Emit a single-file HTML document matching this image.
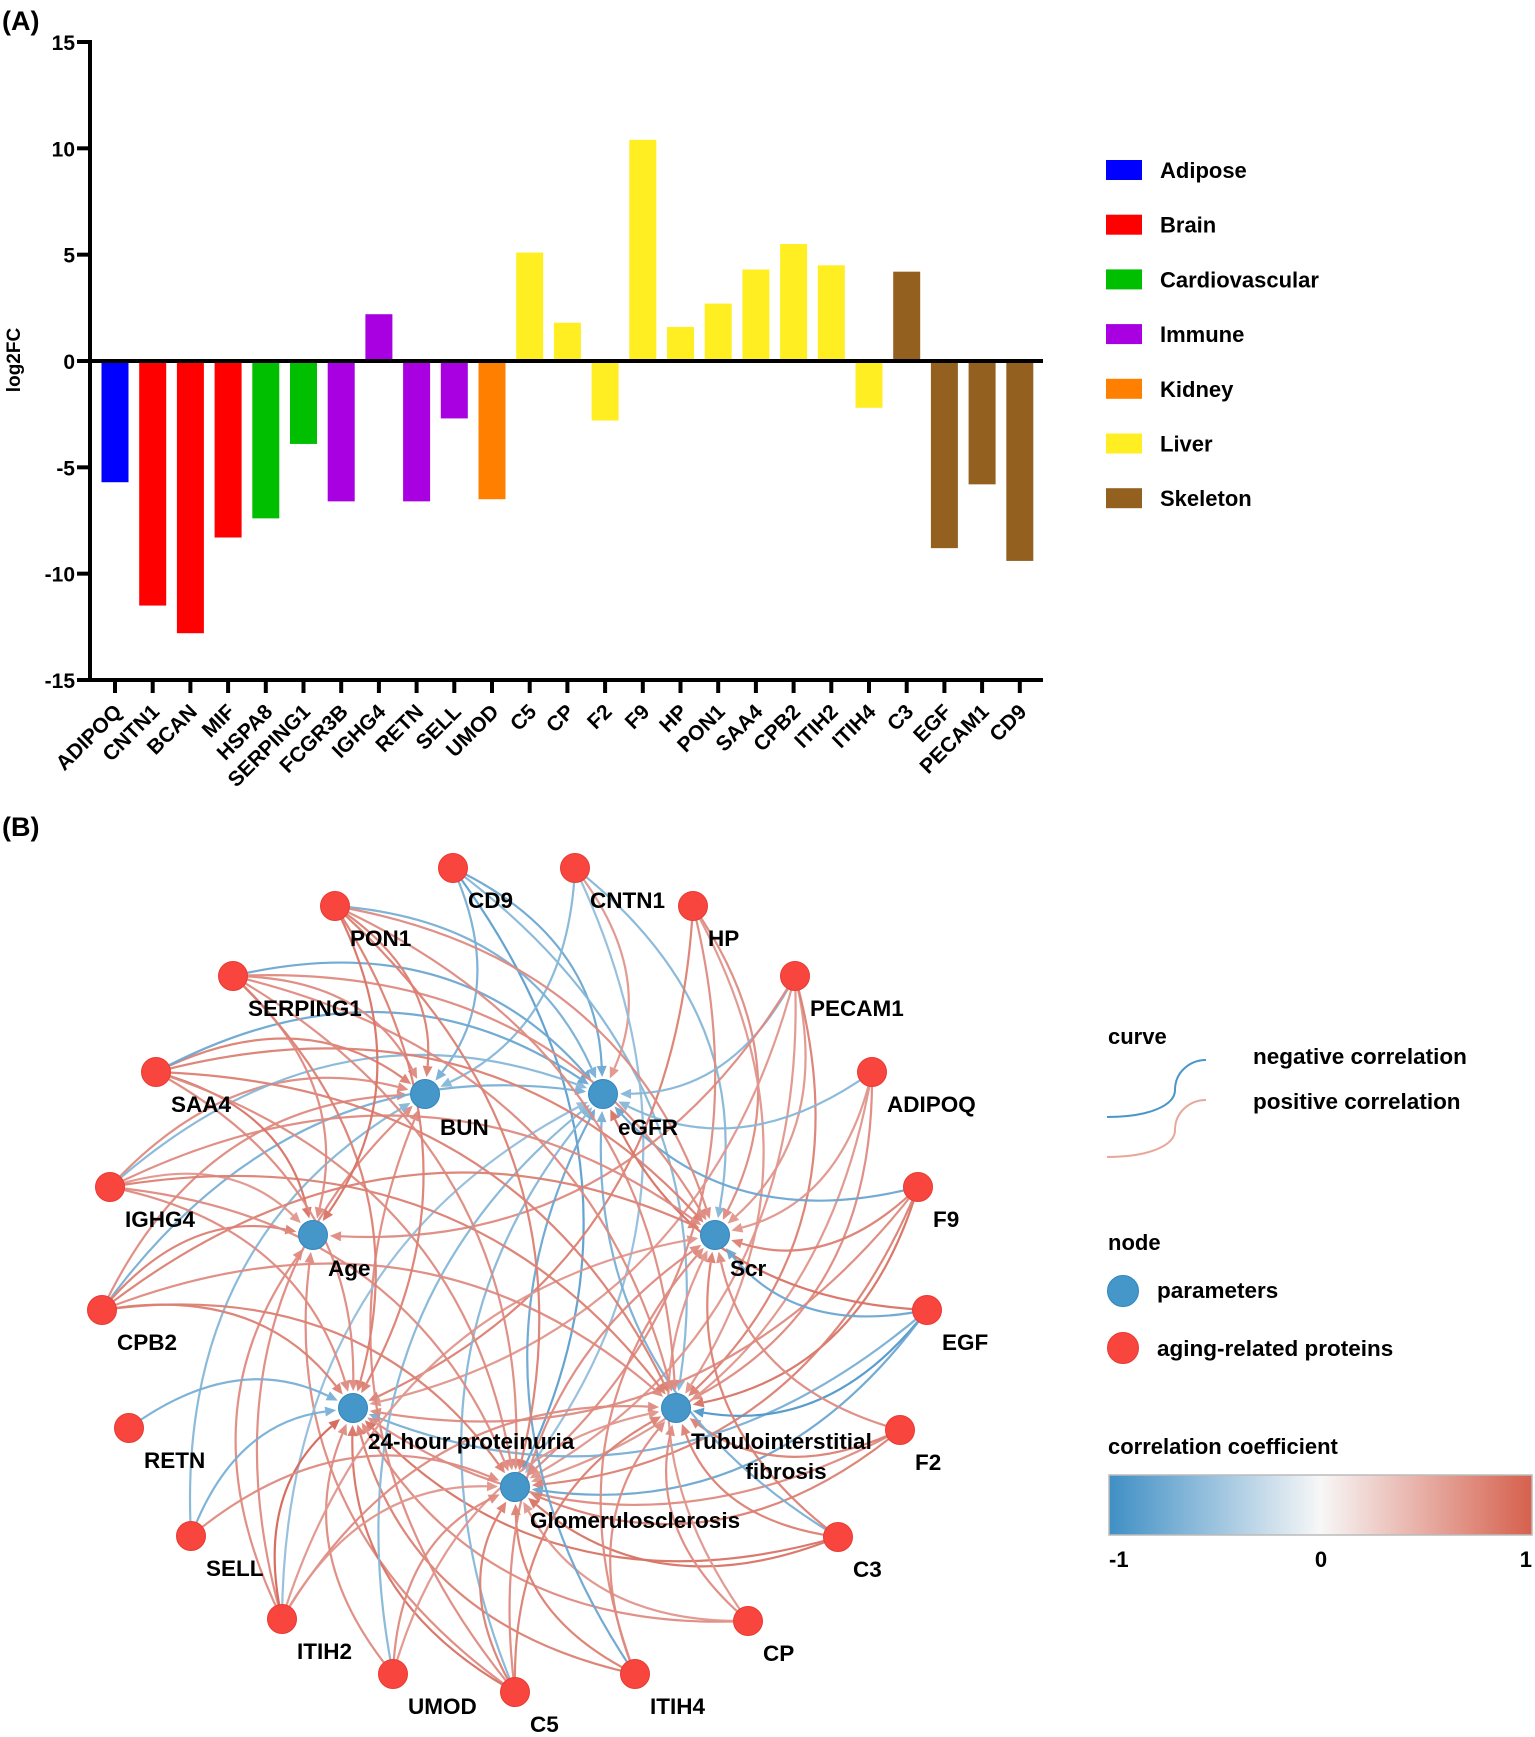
<!DOCTYPE html>
<html><head><meta charset="utf-8"><style>
html,body{margin:0;padding:0;background:#fff;}
svg{display:block;font-family:"Liberation Sans",Arial,sans-serif;font-weight:bold;}
</style></head><body>
<svg id="fig" width="1535" height="1737" viewBox="0 0 1535 1737" xmlns="http://www.w3.org/2000/svg">
<text x="2" y="30" font-size="27">(A)</text>
<g id="barChart"></g>
<g id="barLegend"></g>
<text x="2" y="836" font-size="27">(B)</text>
<g id="net"></g>
<g id="netLegend">
<text x="1108" y="1044" font-size="22">curve</text>
<path d="M1107,1117 C1150,1117 1175,1105 1175,1090 C1175,1072 1190,1060 1206,1060" fill="none" stroke="#4a96c8" stroke-width="2"/>
<path d="M1107,1157 C1150,1157 1175,1145 1175,1130 C1175,1112 1190,1100 1206,1100" fill="none" stroke="#e9a79b" stroke-width="2"/>
<text x="1253" y="1064" font-size="22.5">negative correlation</text>
<text x="1253" y="1109" font-size="22.5">positive correlation</text>
<text x="1108" y="1250" font-size="22">node</text>
<circle cx="1123" cy="1291" r="15.5" fill="#4596c9" stroke="#2f86c0"/>
<text x="1157" y="1298" font-size="22.5">parameters</text>
<circle cx="1123" cy="1348" r="15.5" fill="#f8463f" stroke="#e83a33"/>
<text x="1157" y="1356" font-size="22.5">aging-related proteins</text>
<text x="1108" y="1454" font-size="22">correlation coefficient</text>
<defs><linearGradient id="cg" x1="0" x2="1" y1="0" y2="0">
<stop offset="0" stop-color="#3f8fc5"/><stop offset="0.5" stop-color="#f7f7f7"/><stop offset="1" stop-color="#d6604d"/></linearGradient></defs>
<rect x="1109" y="1475" width="423" height="60" fill="url(#cg)" stroke="#bbb" stroke-width="1.5"/>
<text x="1109" y="1567" font-size="22">-1</text>
<text x="1321" y="1567" font-size="22" text-anchor="middle">0</text>
<text x="1532" y="1567" font-size="22" text-anchor="end">1</text>
</g>
</svg>
<script>
var NS="http://www.w3.org/2000/svg";
// ---------- Panel A data ----------
var genes=["ADIPOQ","CNTN1","BCAN","MIF","HSPA8","SERPING1","FCGR3B","IGHG4","RETN","SELL","UMOD","C5","CP","F2","F9","HP","PON1","SAA4","CPB2","ITIH2","ITIH4","C3","EGF","PECAM1","CD9"];
var log2fc=[-5.7,-11.5,-12.8,-8.3,-7.4,-3.9,-6.6,2.2,-6.6,-2.7,-6.5,5.1,1.8,-2.8,10.4,1.6,2.7,4.3,5.5,4.5,-2.2,4.2,-8.8,-5.8,-9.4];
var tissueOf=["Adipose","Brain","Brain","Brain","Cardiovascular","Cardiovascular","Immune","Immune","Immune","Immune","Kidney","Liver","Liver","Liver","Liver","Liver","Liver","Liver","Liver","Liver","Liver","Skeleton","Skeleton","Skeleton","Skeleton"];
var tissues=["Adipose","Brain","Cardiovascular","Immune","Kidney","Liver","Skeleton"];
var tissueColors=["#0000ff","#ff0000","#00bf00","#a800e0","#ff7f00","#ffee22","#936020"];
var yTicks=[15,10,5,0,-5,-10,-15];

function el(tag,attrs,parent){var e=document.createElementNS(NS,tag);for(var k in attrs)e.setAttribute(k,attrs[k]);parent.appendChild(e);return e;}
var AX={x0:90,x1:1043,yTop:42,yBot:680,vmin:-15,vmax:15,first:115,step:37.7,bw:27};
function yA(v){return AX.yBot-(v-AX.vmin)/(AX.vmax-AX.vmin)*(AX.yBot-AX.yTop);}
function xA(i){return AX.first+i*AX.step;}
var bc=document.getElementById('barChart');
genes.forEach(function(g,i){
  var v=log2fc[i],y0=yA(0),y1=yA(v);
  var r=el('rect',{x:xA(i)-AX.bw/2,y:Math.min(y0,y1),width:AX.bw,height:Math.abs(y1-y0),fill:tissueColors[tissues.indexOf(tissueOf[i])]},bc);
  
  
  var t=el('line',{x1:xA(i),x2:xA(i),y1:AX.yBot,y2:AX.yBot+13,stroke:'#000','stroke-width':4},bc);
  
  
  var lx=xA(i)+8,ly=AX.yBot+33;
  var tl=el('text',{x:lx,y:ly,'font-size':21,'text-anchor':'end',transform:'rotate(-45 '+lx+' '+ly+')'},bc);
  tl.textContent=g;
  
  
});
yTicks.forEach(function(v){
  var t=el('line',{x1:AX.x0-13,x2:AX.x0,y1:yA(v),y2:yA(v),stroke:'#000','stroke-width':4},bc);
  
  
  var tl=el('text',{x:AX.x0-15,y:yA(v)+8,'font-size':21,'text-anchor':'end'},bc);
  tl.textContent=v;
  
  
});
var ya=el('line',{x1:AX.x0,x2:AX.x0,y1:AX.yTop-2,y2:AX.yBot+2,stroke:'#000','stroke-width':4},bc);


var xa=el('line',{x1:AX.x0-2,x2:AX.x1,y1:AX.yBot,y2:AX.yBot,stroke:'#000','stroke-width':4},bc);


var zl=el('line',{x1:AX.x0,x2:AX.x1,y1:yA(0),y2:yA(0),stroke:'#000','stroke-width':4},bc);


var yt=el('text',{x:20,y:360,'font-size':19,'text-anchor':'middle',transform:'rotate(-90 20 360)'},bc);
yt.textContent='log2FC';


var bl=document.getElementById('barLegend');
tissues.forEach(function(t,i){
  var y=170+i*54.7;
  var s=el('rect',{x:1106,y:y-10,width:36,height:20,fill:tissueColors[i]},bl);
  
  
  var tx=el('text',{x:1160,y:y+8,'font-size':22},bl);
  tx.textContent=t;
  
  
});

// ---------- Panel B data ----------
var proteins=["CD9","CNTN1","HP","PECAM1","ADIPOQ","F9","EGF","F2","C3","CP","ITIH4","C5","UMOD","ITIH2","SELL","RETN","CPB2","IGHG4","SAA4","SERPING1","PON1"];
var params=["BUN","eGFR","Age","Scr","24-hour proteinuria","Tubulointerstitial fibrosis","Glomerulosclerosis"];
// correlation of each protein with [BUN,eGFR,Age,Scr,24h,TIF,GS]; 0 = no edge
var rCD9=[-0.5,-0.6,0,0,0,-0.4,-0.7];
var rCNTN1=[-0.4,0.4,0,-0.4,0,0,-0.3];
var rHP=[0,0,0,0.5,0.6,0.4,0.5];
var rPECAM1=[0,-0.4,0.5,0.4,0.4,0.6,0.4];
var rADIPOQ=[0,-0.4,0,0.4,0,0.5,0.4];
var rF9=[0,-0.6,0,0.6,0.5,0.7,0.6];
var rEGF=[0,0.7,0,-0.6,-0.5,-0.8,-0.6];
var rF2=[0,0,0,0.5,0.5,0.6,0.6];
var rC3=[0,-0.5,0,0.6,0.7,0.6,0.7];
var rCP=[0,0,0,0.4,0.5,0.5,0.4];
var rITIH4=[0,-0.6,0,0.5,0.6,0.5,0.6];
var rC5=[0.5,-0.4,0.5,0.5,0.7,0.6,0.6];
var rUMOD=[0,-0.4,0,0,0.5,0.4,0.5];
var rITIH2=[0.5,-0.3,0.5,0.4,0.8,0.5,0.4];
var rSELL=[-0.4,0,0,0,-0.5,0,0.5];
var rRETN=[0,0,0,0,-0.5,0,0];
var rCPB2=[0.5,-0.5,0.6,0.6,0.6,0.5,0.6];
var rIGHG4=[0.5,-0.4,0.4,0.5,0.5,0.6,0.5];
var rSAA4=[0.6,-0.6,0.7,0.6,0.5,0.6,0.5];
var rSERPING1=[0.5,-0.6,0.5,0.5,0.6,0.5,0.5];
var rPON1=[0.6,-0.5,0.7,0.5,0.6,0.5,0.6];
var corr=[rCD9,rCNTN1,rHP,rPECAM1,rADIPOQ,rF9,rEGF,rF2,rC3,rCP,rITIH4,rC5,rUMOD,rITIH2,rSELL,rRETN,rCPB2,rIGHG4,rSAA4,rSERPING1,rPON1];

// layout (positions)
var protPos=[[453,868],[575,868],[693,906],[795,976],[872,1072],[918,1187],[927,1310],[900,1430],[838,1537],[748,1621],[635,1674],[515,1692],[393,1674],[282,1619],[191,1536],[129,1428],[102,1310],[110,1187],[156,1072],[233,976],[335,906]];
var paramPos=[[425,1094],[603,1094],[313,1235],[715,1235],[353,1408],[676,1408],[515,1487]];

function mix(a,b,t){return 'rgb('+[0,1,2].map(function(k){return Math.round(a[k]+(b[k]-a[k])*t);}).join(',')+')';}
function colorFor(r){var t=0.3+0.7*Math.min(1,Math.abs(r));return r<0?mix([247,247,247],[52,136,194],t):mix([247,247,247],[208,80,62],t);}
var net=document.getElementById('net');
var eg=el('g',{},net);


corr.forEach(function(row,i){
  row.forEach(function(r,j){
    if(!r)return;
    var s=protPos[i],t=paramPos[j];
    var dx=t[0]-s[0],dy=t[1]-s[1];
    var k=0.3;
    var cx=(s[0]+t[0])/2+k*dy,cy=(s[1]+t[1])/2-k*dx;
    var ux=t[0]-cx,uy=t[1]-cy,ul=Math.sqrt(ux*ux+uy*uy);ux/=ul;uy/=ul;
    var tipx=t[0]-ux*17,tipy=t[1]-uy*17;
    var bx=tipx-ux*11,by=tipy-uy*11;
    var col=colorFor(r);
    var p=el('path',{d:'M'+s[0]+','+s[1]+' Q'+cx+','+cy+' '+bx+','+by,fill:'none',stroke:col,'stroke-width':2.2,opacity:0.95},eg);
    
    
    var a=el('polygon',{points:tipx+','+tipy+' '+(bx-uy*5)+','+(by+ux*5)+' '+(bx+uy*5)+','+(by-ux*5),fill:col,opacity:0.95},eg);
    
    
  });
});
protPos.forEach(function(p,i){
  var c=el('circle',{cx:p[0],cy:p[1],r:14.5,fill:'#f8463f',stroke:'#e83a33'},net);
  
  
  var t=el('text',{x:p[0]+15,y:p[1]+40,'font-size':22.5},net);
  t.textContent=proteins[i];
  
  
});
paramPos.forEach(function(p,i){
  var c=el('circle',{cx:p[0],cy:p[1],r:14.5,fill:'#4596c9',stroke:'#2f86c0'},net);
  
  
  var parts=params[i]==="Tubulointerstitial fibrosis"?["Tubulointerstitial","fibrosis"]:[params[i]];
  var t=el('text',{x:p[0]+15,y:p[1]+41,'font-size':22.5},net);
  t.textContent=parts[0];
  
  
  if(parts.length>1){
    var t2=el('text',{x:p[0]+110,y:p[1]+71,'font-size':22.5,'text-anchor':'middle'},net);
    t2.textContent=parts[1];
    
    
  }
});
</script>
</body></html>
